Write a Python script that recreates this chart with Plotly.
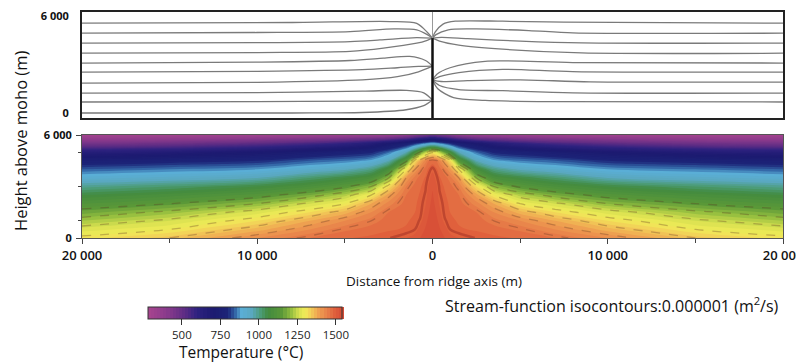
import plotly.graph_objects as go

# ---------------- data ----------------
# temperature (deg C) vs distance from the ridge axis (m, model is symmetric) and height above moho (m)
abs_dist = [0, 200, 400, 700, 1000, 1500, 2500, 3500, 5000, 7000, 10000, 15000, 20000]
height_nodes = [0, 500, 1000, 1500, 2000, 2500, 3000, 3500, 4000, 4500, 5000, 5500, 6000]

t_h0000 = [1530, 1528, 1525, 1520, 1510, 1500, 1489, 1485, 1478, 1460, 1420, 1350, 1310]
t_h0500 = [1530, 1528, 1522, 1510, 1490, 1482, 1478, 1470, 1455, 1420, 1370, 1300, 1270]
t_h1000 = [1530, 1525, 1515, 1492, 1484, 1478, 1470, 1450, 1420, 1380, 1320, 1260, 1220]
t_h1500 = [1528, 1520, 1505, 1486, 1480, 1474, 1460, 1420, 1370, 1320, 1270, 1210, 1170]
t_h2000 = [1526, 1515, 1498, 1484, 1478, 1470, 1430, 1380, 1300, 1260, 1200, 1150, 1120]
t_h2500 = [1522, 1510, 1492, 1482, 1474, 1460, 1390, 1300, 1230, 1180, 1130, 1090, 1060]
t_h3000 = [1518, 1505, 1488, 1478, 1468, 1440, 1320, 1200, 1140, 1100, 1060, 1020, 990]
t_h3500 = [1510, 1495, 1482, 1470, 1450, 1400, 1200, 1100, 1060, 1020, 960, 930, 910]
t_h4000 = [1495, 1485, 1470, 1440, 1400, 1300, 1090, 1000, 950, 920, 880, 860, 840]
t_h4500 = [1470, 1460, 1430, 1380, 1320, 1130, 960, 890, 860, 840, 800, 780, 760]
t_h5000 = [1290, 1270, 1230, 1160, 1080, 960, 850, 790, 770, 740, 700, 660, 640]
t_h5500 = [900, 890, 870, 840, 810, 760, 700, 650, 600, 560, 520, 480, 460]
t_h6000 = [480, 470, 455, 440, 420, 380, 350, 340, 330, 320, 310, 300, 300]
temp_rows = [t_h0000, t_h0500, t_h1000, t_h1500, t_h2000, t_h2500, t_h3000, t_h3500,
             t_h4000, t_h4500, t_h5000, t_h5500, t_h6000]

# stream-function isocontours (distance m, height m)
stream_left = [
    ([-20000, -8000, -2400, -900, -300, 0], [5560, 5600, 5660, 5540, 5000, 4630]),
    ([-20000, -10000, -4700, -2200, -900, -300, 0], [4940, 4980, 5040, 5200, 5140, 4850, 4630]),
    ([-20000, -10000, -4700, -3000, -900, 0], [4320, 4350, 4420, 4520, 4670, 4630]),
    ([-20000, -10000, -4700, -2800, -900, -300, 0], [3700, 3740, 3810, 4010, 4320, 4500, 4630]),
    ([-20000, -10000, -4700, -2800, -1300, -400, 0], [3090, 3150, 3250, 3390, 3500, 3250, 2900]),
    ([-20000, -10000, -4000, -2000, -800, 0], [2530, 2580, 2680, 2800, 2880, 2900]),
    ([-20000, -10000, -4000, -2000, -800, 0], [1850, 1900, 2050, 2250, 2550, 2900]),
    ([-20000, -10000, -4000, -1500, -500, 0], [1230, 1260, 1350, 1400, 1250, 800]),
    ([-20000, -10000, -4000, -1500, -500, 0], [680, 700, 740, 760, 780, 800]),
    ([-20000, -8000, -4000, -1500, -500, 0], [0, 0, 30, 200, 450, 800]),
]
stream_right = [
    ([0, 150, 600, 1300, 4000, 7500, 20000], [4630, 5000, 5500, 5680, 5680, 5620, 5560]),
    ([0, 200, 900, 2500, 5500, 8000, 20000], [4630, 4850, 5150, 5200, 5100, 4960, 4940]),
    ([0, 500, 2000, 5000, 8500, 20000], [4630, 4680, 4600, 4450, 4340, 4320]),
    ([0, 400, 1500, 4000, 8500, 20000], [4630, 4450, 4200, 3950, 3720, 3700]),
    ([0, 250, 1000, 3000, 8000, 20000], [2040, 2400, 2800, 3200, 3120, 3090]),
    ([0, 400, 1500, 4000, 8000, 20000], [2040, 2250, 2500, 2700, 2560, 2530]),
    ([0, 500, 2000, 5000, 9000, 20000], [2040, 1950, 2000, 2050, 1930, 1910]),
    ([0, 400, 1500, 4000, 8000, 20000], [2040, 1700, 1450, 1380, 1250, 1230]),
    ([0, 300, 1200, 3000, 7000, 20000], [2040, 1500, 950, 780, 700, 680]),
]
axis_x = [0, 0]
axis_upper_y = [4630, 6250]
axis_lower_y = [-310, 4630]

dist_major = [-20000, -10000, 0, 10000, 20000]
dist_labels = ["20 000", "10 000", "0", "10 000", "20 000"]
dist_minor = [-15000, -5000, 5000, 15000]
temp_ticks = [500, 750, 1000, 1250, 1500]
dark_isotherms = [1150, 1200, 1250, 1300, 1350, 1400, 1450]
plume_isotherm = 1490

# symmetric table for the contour trace
dist_nodes = [-d for d in abs_dist[:0:-1]] + abs_dist
temperature = [row[:0:-1] + row for row in temp_rows]

# ---------------- figure ----------------
T0, T1 = 280, 1540
stops = [(280, "#a8458e"), (400, "#8a3a8c"), (520, "#5c2c84"), (600, "#2e2280"),
         (700, "#1c1a70"), (800, "#1c2478"), (850, "#3468a8"), (890, "#5aaed6"),
         (950, "#5aa8c0"), (1010, "#4c9c78"), (1060, "#428a40"), (1150, "#5a9838"),
         (1210, "#98c040"), (1260, "#d8e050"), (1300, "#f0ec58"), (1340, "#f2cc58"),
         (1390, "#eea050"), (1440, "#e8804a"), (1490, "#e0603c"), (1540, "#d64c36")]
cscale = [[(t - T0) / (T1 - T0), c] for t, c in stops]

# the page body has an 8px margin: figure is drawn 8px right/down of the window corner
OFF = 8
W, H = 804 - OFF, 362 - OFF
L, R, TOP, BOT = 82 - OFF, 804 - 783, 12 - OFF, H - (238 - OFF)
PW, PH = W - L - R, H - TOP - BOT


def px_x(p):  # reference-window pixel -> paper fraction
    return (p - OFF - L) / PW


def px_y(p):
    return (H - BOT - (p - OFF)) / PH


fig = go.Figure()
fig.add_trace(go.Contour(
    x=dist_nodes, y=height_nodes, z=temperature, xaxis="x2", yaxis="y2",
    colorscale=cscale, zmin=T0, zmax=T1, autocontour=False,
    contours=dict(start=T0, end=T1, size=20, coloring="fill"),
    line=dict(width=0, smoothing=1.0),
    colorbar=dict(orientation="h", x=px_x(245), xanchor="center", xpad=0, ypad=0,
                  y=px_y(307), yanchor="top", lenmode="pixels", len=194,
                  thickness=12, outlinewidth=1, outlinecolor="#333",
                  tickvals=temp_ticks, ticks="outside", ticklen=6, tickcolor="#333",
                  tickfont=dict(size=11.5, color="#222")),
    hoverinfo="skip"))
fig.add_trace(go.Contour(
    x=dist_nodes, y=height_nodes, z=temperature, xaxis="x2", yaxis="y2",
    autocontour=False, showscale=False,
    contours=dict(start=dark_isotherms[0], end=dark_isotherms[-1], size=50, coloring="none"),
    line=dict(width=1.3, color="rgba(90,45,30,0.30)", dash="dash", smoothing=1.0),
    hoverinfo="skip"))
fig.add_trace(go.Contour(
    x=dist_nodes, y=height_nodes, z=temperature, xaxis="x2", yaxis="y2",
    autocontour=False, showscale=False,
    contours=dict(start=plume_isotherm, end=plume_isotherm, size=10, coloring="none"),
    line=dict(width=2.5, color="rgba(150,40,30,0.45)", smoothing=1.0),
    hoverinfo="skip"))

for xs, ys in stream_left + stream_right:
    fig.add_trace(go.Scatter(x=xs, y=ys, mode="lines", xaxis="x", yaxis="y",
                             line=dict(color="#7a7a7a", width=1.3, shape="spline", smoothing=0.8),
                             showlegend=False, hoverinfo="skip"))
fig.add_trace(go.Scatter(x=axis_x, y=axis_upper_y, mode="lines", line=dict(color="#999", width=1),
                         showlegend=False, hoverinfo="skip"))
fig.add_trace(go.Scatter(x=axis_x, y=axis_lower_y, mode="lines", line=dict(color="#111", width=2.5),
                         showlegend=False, hoverinfo="skip"))

FONT = "Open Sans"
fig.update_layout(
    width=W, height=H, margin=dict(l=L, r=R, t=TOP, b=BOT, autoexpand=False),
    paper_bgcolor="white", plot_bgcolor="white", showlegend=False,
    font=dict(family=FONT, color="#111"),
    xaxis=dict(domain=[0, 1], range=[-20000, 20000], anchor="y", showticklabels=False,
               ticks="", showgrid=False, zeroline=False, showline=True, mirror=True,
               linewidth=2, linecolor="#222"),
    yaxis=dict(domain=[px_y(118), 1], range=[-310, 6250], anchor="x",
               tickvals=[0, 6000], ticktext=["0", "6 000"], ticks="", showgrid=False,
               zeroline=False, showline=True, mirror=True, linewidth=2, linecolor="#222",
               ticklabeloverflow="allow", ticklabelstandoff=9,
               tickfont=dict(size=11, weight=700)),
    xaxis2=dict(domain=[0, 1], range=[-20000, 20000], anchor="y2", tickvals=dist_major,
                ticktext=dist_labels, ticks="outside", ticklen=5, tickcolor="#444",
                minor=dict(tickvals=dist_minor, ticks="outside", ticklen=4, tickcolor="#444"),
                showgrid=False, zeroline=False, showline=True, mirror=True, linewidth=1,
                linecolor="#555", ticklabeloverflow="allow", ticklabelstandoff=0,
                tickfont=dict(size=13, weight=600)),
    yaxis2=dict(domain=[0, px_y(135)], range=[0, 6000], anchor="x2", tickvals=[0, 6000],
                ticktext=["0", "6 000"], ticks="outside", ticklen=5, tickcolor="#444",
                minor=dict(tickvals=[1000, 3000, 5000], ticks="outside", ticklen=3, tickcolor="#444"),
                showgrid=False, zeroline=False, showline=True, mirror=True, linewidth=1,
                linecolor="#555", ticklabeloverflow="allow", ticklabelstandoff=2,
                tickfont=dict(size=11, weight=700)),
    annotations=[
        dict(text="Distance from ridge axis (m)", xref="paper", yref="paper",
             x=px_x(434), y=px_y(281), showarrow=False,
             xanchor="center", yanchor="middle", font=dict(size=13.5)),
        dict(text="Stream-function isocontours:0.000001 (m<sup>2</sup>/s)", xref="paper",
             yref="paper", x=px_x(443), y=px_y(305), showarrow=False,
             xanchor="left", yanchor="middle", font=dict(size=16)),
        dict(text="Height above moho (m)", xref="paper", yref="paper",
             x=px_x(20), y=px_y(141), showarrow=False, textangle=-90,
             xanchor="center", yanchor="middle", font=dict(size=16.5)),
        dict(text="Temperature (°C)", xref="paper", yref="paper",
             x=px_x(241), y=px_y(352), showarrow=False,
             xanchor="center", yanchor="middle", font=dict(size=15.5)),
    ],
)
fig.write_html("out.html")
